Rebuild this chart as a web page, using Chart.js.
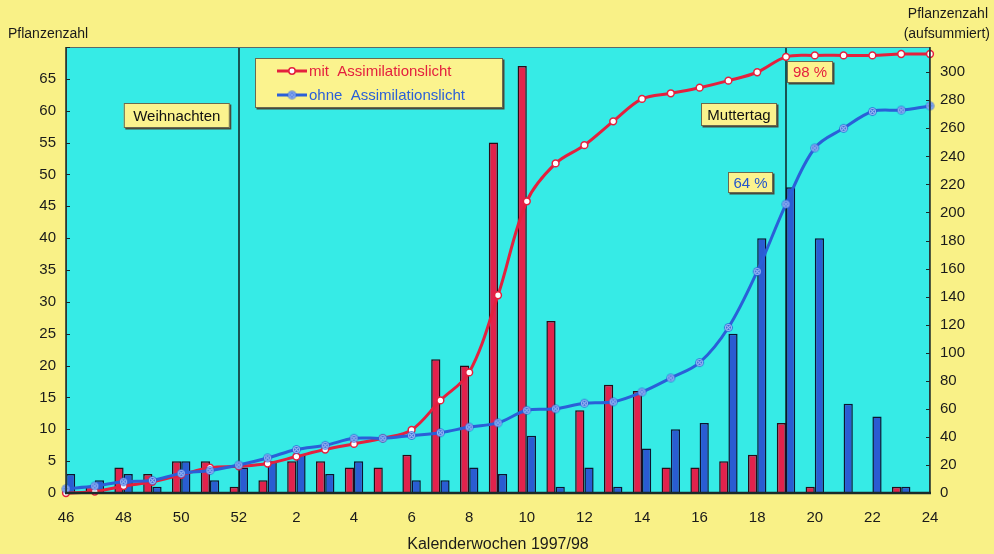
<!DOCTYPE html>
<html>
<head>
<meta charset="utf-8">
<script src="https://cdn.jsdelivr.net/npm/chart.js@4/dist/chart.umd.min.js"></script>
<style>
  html, body { margin: 0; padding: 0; background: #f9f187; }
  canvas { display: block; }
</style>
</head>
<body>
<canvas id="c" width="994" height="554"></canvas>
<script>
// Calendar weeks 46/1997 .. 24/1998
const weeks = ['46','47','48','49','50','51','52',
  '1','2','3','4','5','6','7','8','9','10','11','12',
  '13','14','15','16','17','18','19','20','21','22','23','24'];

// Plants per week
const mitWeekly  = [0,1,4,3,5,5,1, 2,5,5,4,4,6,21,20,55,67,27,13,17,16,4,4,5,6,11,1,0,0,1,0];
const ohneWeekly = [3,2,3,1,5,2,4, 5,6,3,5,0,2,2,4,3,9,1,4,1,7,10,11,25,40,48,40,14,12,1,3];

// Plants summed up
const mitTotal  = [0,1,5,8,13,18,19, 21,26,31,35,39,45,66,86,141,208,235,248,265,281,285,289,294,300,311,312,312,312,313,313];
const ohneTotal = [3,5,8,9,14,16,20, 25,31,34,39,39,41,43,47,50,59,60,64,65,72,82,93,118,158,206,246,260,272,273,276];

const leftTicks  = [0,5,10,15,20,25,30,35,40,45,50,55,60,65];
const rightTicks = [0,20,40,60,80,100,120,140,160,180,200,220,240,260,280,300];

const seriesNames = ['mit  Assimilationslicht', 'ohne  Assimilationslicht'];

// Marked weeks
const events = [
  { week: '52', text: 'Weihnachten' },
  { week: '19', text: 'Muttertag' }
];
const shares = [
  { text: '98 %', color: '#e4203e' },
  { text: '64 %', color: '#2456cc' }
];

const RED = '#e4203e';
const BLUE = '#2a5fd8';
const FONT = '"Liberation Sans", Arial, sans-serif';
const BOX_FILL = '#fbf38e';

// blue point marker: dot with a pale cross
const blueDot = (() => {
  const c = document.createElement('canvas');
  c.width = 11; c.height = 11;
  const g = c.getContext('2d');
  g.fillStyle = BLUE;
  g.beginPath(); g.arc(5.5, 5.5, 4.3, 0, Math.PI * 2); g.fill();
  g.strokeStyle = '#9fbcf4'; g.lineWidth = 1.1;
  g.beginPath(); g.arc(5.5, 5.5, 3.0, 0, Math.PI * 2); g.stroke();
  g.beginPath();
  g.moveTo(3.8, 3.8); g.lineTo(7.2, 7.2);
  g.moveTo(7.2, 3.8); g.lineTo(3.8, 7.2);
  g.stroke();
  return c;
})();

function boxText(ctx, x, y, w, h, text, color, font) {
  ctx.save();
  ctx.fillStyle = '#4a4a3a';
  ctx.fillRect(x + 1.5, y + 1.5, w, h);
  ctx.fillStyle = BOX_FILL;
  ctx.fillRect(x, y, w, h);
  ctx.strokeStyle = '#6a6a50';
  ctx.lineWidth = 1;
  ctx.strokeRect(x + 0.5, y + 0.5, w - 1, h - 1);
  ctx.fillStyle = color;
  ctx.font = font;
  ctx.textAlign = 'center';
  ctx.textBaseline = 'middle';
  ctx.fillText(text, x + w / 2, y + h / 2 + 1);
  ctx.restore();
}

const decor = {
  id: 'decor',
  beforeDraw(chart) {
    const { ctx, chartArea: a } = chart;
    ctx.save();
    ctx.fillStyle = '#f9f187';
    ctx.fillRect(0, 0, chart.width, chart.height);
    ctx.fillStyle = '#36ebe6';
    ctx.fillRect(a.left, a.top, a.right - a.left, a.bottom - a.top);
    ctx.restore();
  },
  beforeDatasetsDraw(chart) {
    const { ctx, chartArea: a, scales } = chart;
    ctx.save();
    ctx.strokeStyle = '#102020';
    ctx.lineWidth = 1.5;
    events.forEach(e => {
      const x = Math.round(scales.x.getPixelForValue(weeks.indexOf(e.week)));
      ctx.beginPath();
      ctx.moveTo(x, a.top);
      ctx.lineTo(x, a.bottom);
      ctx.stroke();
    });
    ctx.restore();
  },
  afterDatasetsDraw(chart) {
    const { ctx, chartArea: a, scales } = chart;
    ctx.save();

    // frame of the plot
    ctx.strokeStyle = '#5a6a6a';
    ctx.lineWidth = 1;
    ctx.strokeRect(a.left + 0.5, a.top + 0.5, a.right - a.left - 1, a.bottom - a.top - 1);
    ctx.strokeStyle = '#1a2a2a';
    ctx.lineWidth = 1.5;
    ctx.beginPath();
    ctx.moveTo(a.left, a.top); ctx.lineTo(a.left, a.bottom);
    ctx.moveTo(a.right, a.top); ctx.lineTo(a.right, a.bottom);
    ctx.stroke();
    ctx.lineWidth = 2.5;
    ctx.beginPath();
    ctx.moveTo(a.left - 1, a.bottom); ctx.lineTo(a.right + 1, a.bottom);
    ctx.stroke();

    // inward tick marks
    ctx.lineWidth = 1;
    ctx.strokeStyle = '#1a2a2a';
    leftTicks.concat([70]).forEach(v => {
      const y = Math.round(scales.y.getPixelForValue(v)) + 0.5;
      ctx.beginPath(); ctx.moveTo(a.left, y); ctx.lineTo(a.left + 4, y); ctx.stroke();
    });
    rightTicks.forEach(v => {
      const y = Math.round(scales.y2.getPixelForValue(v)) + 0.5;
      ctx.beginPath(); ctx.moveTo(a.right - 4, y); ctx.lineTo(a.right, y); ctx.stroke();
    });

    const f15 = '15px ' + FONT;

    // event labels, left of their week line
    const xW = scales.x.getPixelForValue(weeks.indexOf(events[0].week));
    boxText(ctx, xW - 115, 103, 106, 25, events[0].text, '#111', f15);
    const xM = scales.x.getPixelForValue(weeks.indexOf(events[1].week));
    boxText(ctx, xM - 85, 103, 76, 23, events[1].text, '#111', f15);

    // shares reached at Muttertag
    boxText(ctx, xM + 1, 61, 46, 22, shares[0].text, shares[0].color, f15);
    boxText(ctx, xM - 58, 172, 45, 21, shares[1].text, shares[1].color, f15);

    // legend
    const lx = 255, ly = 58, lw = 248, lh = 50;
    ctx.fillStyle = '#4a4a3a';
    ctx.fillRect(lx + 1.5, ly + 1.5, lw, lh);
    ctx.fillStyle = BOX_FILL;
    ctx.fillRect(lx, ly, lw, lh);
    ctx.strokeStyle = '#6a6a50';
    ctx.lineWidth = 1;
    ctx.strokeRect(lx + 0.5, ly + 0.5, lw - 1, lh - 1);
    const rows = [
      { y: 71, color: RED, name: chart.data.datasets[1].label },
      { y: 95, color: BLUE, name: chart.data.datasets[0].label }
    ];
    rows.forEach((r, i) => {
      ctx.strokeStyle = r.color;
      ctx.lineWidth = 3;
      ctx.beginPath(); ctx.moveTo(277, r.y); ctx.lineTo(307, r.y); ctx.stroke();
      if (i === 0) {
        ctx.fillStyle = '#fff';
        ctx.lineWidth = 1.5;
        ctx.beginPath(); ctx.arc(292, r.y, 3.2, 0, Math.PI * 2); ctx.fill(); ctx.stroke();
      } else {
        ctx.drawImage(blueDot, 292 - 5.5, r.y - 5.5);
      }
      ctx.fillStyle = r.color;
      ctx.font = f15;
      ctx.textAlign = 'left';
      ctx.textBaseline = 'middle';
      ctx.fillText(r.name, 309, r.y + 1);
    });

    // axis captions
    ctx.fillStyle = '#1a1a1a';
    ctx.font = '14px ' + FONT;
    ctx.textBaseline = 'middle';
    ctx.textAlign = 'left';
    ctx.fillText('Pflanzenzahl', 8, 34);
    ctx.textAlign = 'right';
    ctx.fillText('Pflanzenzahl', 988, 14);
    ctx.fillText('(aufsummiert)', 990, 34);

    ctx.restore();
  }
};

new Chart(document.getElementById('c'), {
  data: {
    labels: weeks,
    datasets: [
      { type: 'line', label: seriesNames[1], data: ohneTotal, yAxisID: 'y2', order: 0,
        borderColor: BLUE, borderWidth: 3, tension: 0.35, pointStyle: blueDot,
        pointRadius: 4, clip: false },
      { type: 'line', label: seriesNames[0], data: mitTotal, yAxisID: 'y2', order: 1,
        borderColor: RED, borderWidth: 3, tension: 0.35, pointStyle: 'circle',
        pointRadius: 3.4, pointBackgroundColor: '#ffffff', pointBorderColor: RED,
        pointBorderWidth: 1.5, clip: false },
      // weekly bars drawn behind the curves
      { type: 'bar', label: seriesNames[0], data: mitWeekly, yAxisID: 'y', order: 2,
        backgroundColor: '#e2224c', borderColor: '#2a0c18', borderWidth: 1.5,
        categoryPercentage: 0.64, barPercentage: 1.0, grouped: true },
      { type: 'bar', label: seriesNames[1], data: ohneWeekly, yAxisID: 'y', order: 2,
        backgroundColor: '#2a5cd2', borderColor: '#0c1430', borderWidth: 1.5,
        categoryPercentage: 0.64, barPercentage: 1.0, grouped: true }
    ]
  },
  options: {
    responsive: false,
    animation: false,
    events: [],
    layout: { padding: { top: 47, left: 0, right: 0, bottom: 0 } },
    plugins: { legend: { display: false }, tooltip: { enabled: false } },
    scales: {
      x: {
        type: 'category',
        offset: false,
        grid: { display: false, offset: false, drawTicks: false },
        border: { display: false },
        ticks: {
          autoSkip: false, maxRotation: 0, padding: 16,
          color: '#1a1a1a', font: { family: FONT, size: 15 },
          callback(v, i) { return i % 2 === 0 ? weeks[i] : ''; }
        },
        title: {
          display: true, text: 'Kalenderwochen 1997/98',
          color: '#1a1a1a', font: { family: FONT, size: 16 },
          padding: { top: 0, bottom: 0 }
        },
        afterFit(s) { s.height = 61; }
      },
      y: {
        position: 'left', min: 0, max: 70,
        grid: { display: false, drawTicks: false },
        border: { display: false },
        ticks: {
          stepSize: 5, padding: 10, color: '#1a1a1a',
          font: { family: FONT, size: 15 },
          callback(v) { return leftTicks.includes(v) ? String(v) : ''; }
        },
        afterFit(s) { s.width = 66; }
      },
      y2: {
        position: 'right', min: 0, max: 318,
        grid: { display: false, drawTicks: false },
        border: { display: false },
        afterBuildTicks(s) { s.ticks = rightTicks.map(v => ({ value: v })); },
        ticks: {
          padding: 10, color: '#1a1a1a',
          font: { family: FONT, size: 15 }
        },
        afterFit(s) { s.width = 64; }
      }
    }
  },
  plugins: [decor]
});
</script>
</body>
</html>
